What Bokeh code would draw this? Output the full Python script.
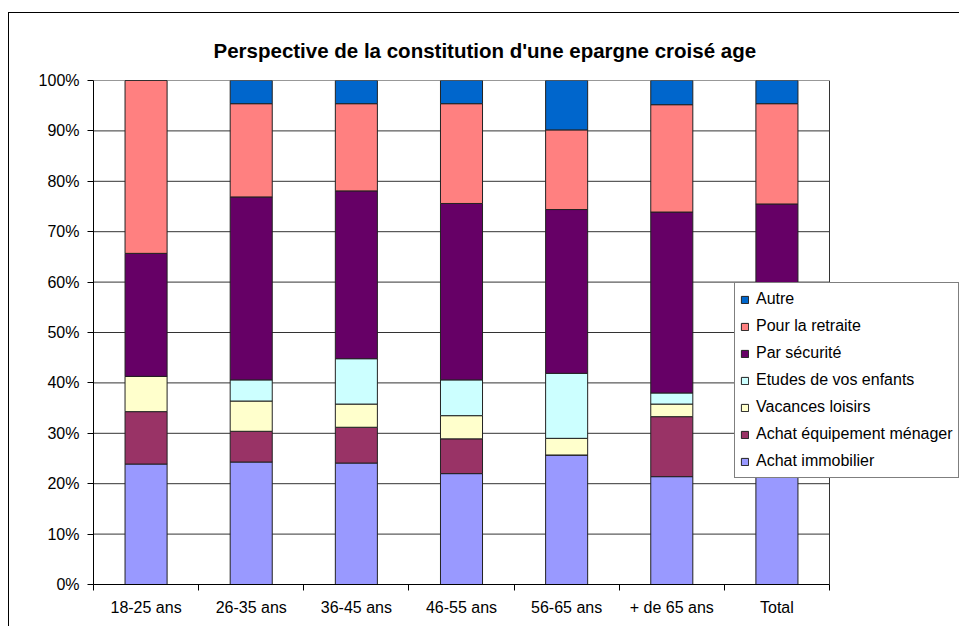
from bokeh.plotting import figure
from bokeh.models import (ColumnDataSource, Range1d, FixedTicker, NumeralTickFormatter,
                          Legend, LegendItem)
from bokeh.embed import file_html
from bokeh.resources import INLINE

categories = ["18-25 ans", "26-35 ans", "36-45 ans", "46-55 ans", "56-65 ans", "+ de 65 ans", "Total"]
series = ["Achat immobilier", "Achat équipement ménager", "Vacances loisirs",
          "Etudes de vos enfants", "Par sécurité", "Pour la retraite", "Autre"]
immobilier = [23.9, 24.3, 24.1, 22.0, 25.7, 21.4, 23.5]
equipement = [10.4, 6.1, 7.1, 6.9, 0.0, 11.9, 7.5]
vacances = [7.0, 6.0, 4.6, 4.6, 3.3, 2.5, 4.5]
etudes = [0.0, 4.2, 9.0, 7.1, 12.9, 2.2, 6.5]
securite = [24.4, 36.3, 33.3, 35.0, 32.5, 35.9, 33.5]
retraite = [34.3, 18.5, 17.3, 19.8, 15.8, 21.3, 19.9]
autre = [0.0, 4.6, 4.6, 4.6, 9.8, 4.8, 4.6]
colors = ["#9999FF", "#993366", "#FFFFCC", "#CCFFFF", "#660066", "#FF8080", "#0066CC"]
y_ticks = [0.0, 0.1, 0.2, 0.3, 0.4, 0.5, 0.6, 0.7, 0.8, 0.9, 1.0]

values = [immobilier, equipement, vacances, etudes, securite, retraite, autre]
keys = ["s%d" % i for i in range(len(series))]
n = len(categories)
xs = [i + 0.5 for i in range(n)]
data = {"x": xs}
for k, v in zip(keys, values):
    data[k] = [a / 100.0 for a in v]
source = ColumnDataSource(data)

FONT = "Liberation Sans"

# plot area of the categories is 736 px wide; the frame continues to the right edge
CAT_PX = 736
FRAME_W = 866
p = figure(frame_width=FRAME_W, frame_height=504, output_backend="svg", toolbar_location=None,
           x_range=Range1d(0, n * FRAME_W / CAT_PX), y_range=Range1d(0, 1),
           min_border_left=84, min_border_right=0, min_border_top=67, min_border_bottom=42,
           background_fill_color="white", border_fill_color="white")
p.margin = (12, 0, 0, 8)
p.styles = {"border-left": "1px solid black", "border-top": "1px solid black"}

p.title.text = "Perspective de la constitution d'une epargne croisé age"
p.title.text_font = FONT
p.title.text_font_size = "20.5px"
p.title.text_font_style = "bold"
p.title.text_color = "black"
p.title.align = "left"
p.title.offset = 120
p.title.standoff = 37

# grid lines and right border of the plot area
p.segment(x0=0, x1=n, y0=y_ticks, y1=y_ticks, line_color="#333333", line_width=1)
p.segment(x0=[n], x1=[n], y0=[0], y1=[1], line_color="#333333", line_width=1)

rs = p.vbar_stack(keys, x="x", width=0.4, source=source, fill_color=colors,
                  line_color="#222222", line_width=1)

legend = Legend(items=[LegendItem(label=series[i], renderers=[rs[i]]) for i in reversed(range(len(series)))],
                location=(641, 106), orientation="vertical",
                label_text_font=FONT, label_text_font_size="16px", label_text_color="black",
                label_height=22, glyph_height=9, glyph_width=9, label_standoff=7,
                spacing=5, padding=5, margin=0,
                border_line_color="black", border_line_width=1,
                background_fill_color="white", background_fill_alpha=1)
p.add_layout(legend, "center")

# axes
xax = p.xaxis[0]
xax.bounds = (0, n)
xax.ticker = FixedTicker(ticks=xs, minor_ticks=list(range(n + 1)))
xax.major_label_overrides = {x: c for x, c in zip(xs, categories)}
xax.major_tick_out = 0
xax.major_tick_in = 0
xax.minor_tick_out = 6
xax.minor_tick_in = 0
xax.minor_tick_line_color = "black"
xax.axis_line_color = "black"
xax.major_label_standoff = 8
xax.major_label_text_font = FONT
xax.major_label_text_font_size = "16px"
xax.major_label_text_color = "black"

yax = p.yaxis[0]
yax.ticker = FixedTicker(ticks=y_ticks, minor_ticks=[])
yax.formatter = NumeralTickFormatter(format="0%")
yax.major_tick_out = 6
yax.major_tick_in = 0
yax.major_tick_line_color = "black"
yax.axis_line_color = "black"
yax.major_label_standoff = 8
yax.major_label_text_font = FONT
yax.major_label_text_font_size = "16px"
yax.major_label_text_color = "black"

p.xgrid.visible = False
p.ygrid.visible = False
p.outline_line_color = None

open("out.html", "w").write(file_html(p, INLINE))
